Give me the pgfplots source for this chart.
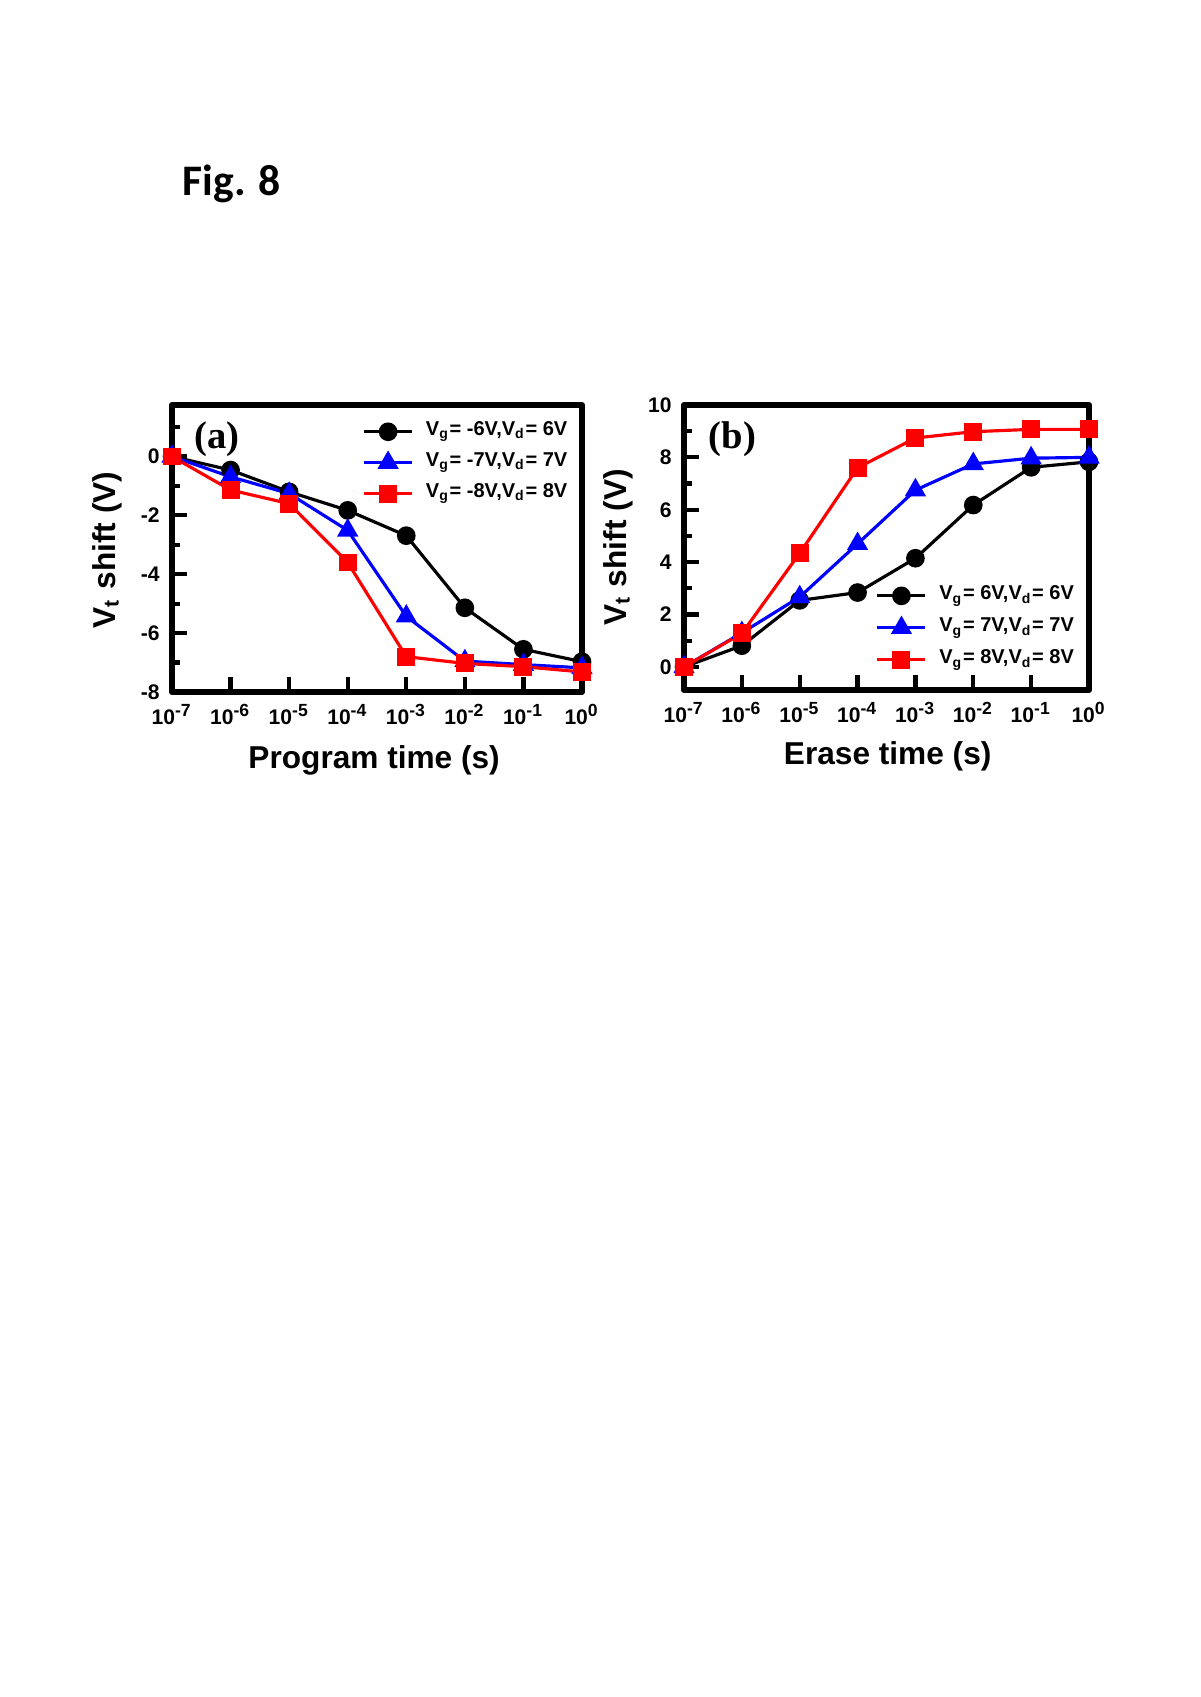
\documentclass[border=0pt]{standalone}
\usepackage{fontspec}
\setmainfont{Liberation Sans}
\newfontfamily\timesfont{Liberation Serif}
\newfontfamily\calibri{Carlito}
\usepackage{pgfplots}
\pgfplotsset{compat=1.18}
\definecolor{myblue}{RGB}{0,0,255}
\definecolor{myred}{RGB}{255,0,0}
\pgfplotsset{
  mystyle/.style={
    scale only axis,
    xmin=1e-7, xmax=1,
    xtick={1e-7,1e-6,1e-5,1e-4,1e-3,1e-2,1e-1,1},
    xticklabels={10\textsuperscript{-7},10\textsuperscript{-6},10\textsuperscript{-5},10\textsuperscript{-4},10\textsuperscript{-3},10\textsuperscript{-2},10\textsuperscript{-1},10\textsuperscript{0}},
    xminorticks=false,
    tick pos=left,
    tick align=inside,
    axis line style={line width=1.7pt, line join=round},
    major tick style={line width=1.2pt, black},
    minor tick style={line width=1.2pt, black},
    major tick length=0.15cm,
    minor tick length=0.08cm,
    ticklabel style={font=\fontsize{6}{7}\selectfont\bfseries},
    xticklabel style={anchor=base, yshift=-0.33cm},
    label style={font=\fontsize{9}{10}\selectfont\bfseries},
    clip=false,
    legend cell align=left,
    legend image code/.code={
      \draw[mark repeat=2,mark phase=2] plot coordinates {(0cm,0cm) (0.24cm,0cm) (0.48cm,0cm)};
    },
    legend style={draw=none, fill=none, inner sep=0pt,
      font=\fontsize{5.7}{6.8}\selectfont\bfseries,
      nodes={inner sep=0.5pt, text height=4.3pt, text depth=2.2pt},
      column sep=3pt},
  },
  blk/.style={black, line width=0.9pt, mark=*, mark size=2.2pt, mark options={solid, fill=black}},
  blu/.style={myblue, line width=0.9pt, mark=triangle*, mark size=2.6pt, mark options={solid, fill=myblue}},
  rd/.style={myred, line width=0.9pt, mark=square*, mark size=2.1pt, mark options={solid, fill=myred}},
}
\begin{document}
\begin{tikzpicture}
\useasboundingbox (0,0) rectangle (12,16.97);
\node[anchor=base west, inner sep=0pt, font=\calibri\bfseries\fontsize{12.4}{14}\selectfont] at (1.82,15.01) {Fig. 8};

% Panel (a)
\begin{axis}[xmode=log, mystyle,
  at={(1.72cm,10.05cm)}, anchor=south west,
  width=4.10cm, height=2.87cm,
  ymin=-8, ymax=1.75,
  ytick={-8,-6,-4,-2,0},
  yticklabels={-8,-6,-4,-2,0},
  minor ytick={-7,-5,-3,-1,1},
  xlabel={Program time (s)},
  ylabel={V\textsubscript{t} shift (V)},
  xlabel style={at={(axis description cs:0.493,-0.265)}, anchor=base},
  ylabel style={at={(axis description cs:-0.139,0.495)}, anchor=base},
  legend style={at={(axis description cs:0.463,0.955)}, anchor=north west, row sep=1.3pt},
]
\addplot[blk] coordinates {(1e-7,0) (1e-6,-0.46) (1e-5,-1.2) (1e-4,-1.83) (1e-3,-2.69) (1e-2,-5.14) (1e-1,-6.55) (1,-6.97)};
\addlegendentry{V\textsubscript{g}= -6V,V\textsubscript{d}= 6V}
\addplot[blu] coordinates {(1e-7,0) (1e-6,-0.69) (1e-5,-1.26) (1e-4,-2.51) (1e-3,-5.43) (1e-2,-6.95) (1e-1,-7.07) (1,-7.18)};
\addlegendentry{V\textsubscript{g}= -7V,V\textsubscript{d}= 7V}
\addplot[rd] coordinates {(1e-7,0) (1e-6,-1.14) (1e-5,-1.6) (1e-4,-3.6) (1e-3,-6.8) (1e-2,-7.03) (1e-1,-7.14) (1,-7.32)};
\addlegendentry{V\textsubscript{g}= -8V,V\textsubscript{d}= 8V}
\node[font=\timesfont\bfseries\fontsize{11}{12}\selectfont] at (axis description cs:0.11,0.88) {(a)};
\end{axis}

% Panel (b)
\begin{axis}[xmode=log, mystyle,
  at={(6.84cm,10.07cm)}, anchor=south west,
  width=4.05cm, height=2.85cm,
  ymin=-0.88, ymax=10,
  ytick={0,2,4,6,8,10},
  yticklabels={0,2,4,6,8,10},
  minor ytick={1,3,5,7,9},
  xlabel={Erase time (s)},
  ylabel={V\textsubscript{t} shift (V)},
  xlabel style={at={(axis description cs:0.503,-0.262)}, anchor=base},
  ylabel style={at={(axis description cs:-0.143,0.5)}, anchor=base},
  legend style={at={(axis description cs:0.472,0.379)}, anchor=north west, row sep=1.6pt},
]
\addplot[blk] coordinates {(1e-7,0) (1e-6,0.81) (1e-5,2.54) (1e-4,2.84) (1e-3,4.15) (1e-2,6.18) (1e-1,7.62) (1,7.83)};
\addlegendentry{V\textsubscript{g}= 6V,V\textsubscript{d}= 6V}
\addplot[blu] coordinates {(1e-7,0) (1e-6,1.3) (1e-5,2.67) (1e-4,4.7) (1e-3,6.75) (1e-2,7.75) (1e-1,7.97) (1,8.0)};
\addlegendentry{V\textsubscript{g}= 7V,V\textsubscript{d}= 7V}
\addplot[rd] coordinates {(1e-7,0) (1e-6,1.28) (1e-5,4.34) (1e-4,7.6) (1e-3,8.74) (1e-2,8.98) (1e-1,9.07) (1,9.07)};
\addlegendentry{V\textsubscript{g}= 8V,V\textsubscript{d}= 8V}
\node[font=\timesfont\bfseries\fontsize{11}{12}\selectfont] at (axis description cs:0.12,0.88) {(b)};
\end{axis}
\end{tikzpicture}
\end{document}
